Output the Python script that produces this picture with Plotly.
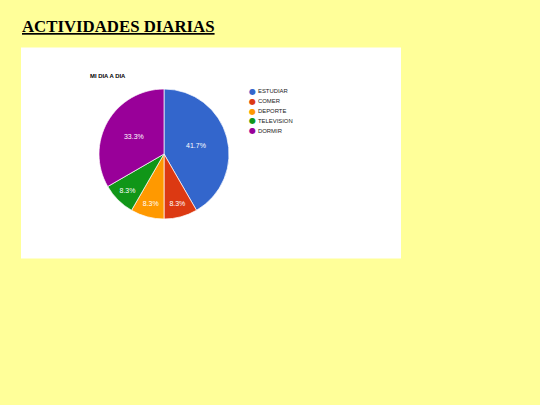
import plotly.graph_objects as go

# Horas del dia por actividad
ACTIVIDADES = ['ESTUDIAR', 'COMER', 'DEPORTE', 'TELEVISION', 'DORMIR']
HORAS = [10, 2, 2, 2, 8]
COLORES = ['#3366CC', '#DC3912', '#FF9900', '#109618', '#990099']

W, H = 540, 405

def px(x, y):
    # pixel -> paper coords
    return x / W, 1 - y / H

fig = go.Figure()
fig.add_trace(go.Pie(
    labels=ACTIVIDADES, values=HORAS, sort=False, direction='clockwise', rotation=0,
    marker=dict(colors=COLORES, line=dict(color='white', width=0.7)),
    texttemplate='%{percent:.1%}', textposition='inside', insidetextorientation='horizontal',
    textfont=dict(family='Arial, Liberation Sans', size=7, color='white'),
    domain=dict(x=[99 / W, 229 / W], y=[1 - 219 / H, 1 - 89 / H]),
    showlegend=False, hoverinfo='label+value+percent'))

x0, y1 = px(21, 47.5)
x1, y0 = px(401, 258.5)
shapes = [dict(type='rect', xref='paper', yref='paper', x0=x0, x1=x1, y0=y0, y1=y1,
               fillcolor='white', line=dict(width=0), layer='below')]

annotations = [
    dict(text='<b><u>ACTIVIDADES DIARIAS</u></b>', x=px(20, 0)[0], y=px(0, 38)[1], xref='paper', yref='paper',
         xanchor='left', yanchor='bottom', showarrow=False,
         font=dict(family='Liberation Serif, Times New Roman', size=16.8, color='black')),
    dict(text='<b>MI DIA A DIA</b>', x=px(87.5, 0)[0], y=px(0, 76)[1], xref='paper', yref='paper',
         xanchor='left', yanchor='middle', showarrow=False,
         font=dict(family='Arial, Liberation Sans', size=5.9, color='black')),
]
# leyenda manual
for i, (nombre, color) in enumerate(zip(ACTIVIDADES, COLORES)):
    yy = px(0, 91.5 + i * 9.8)[1]
    annotations.append(dict(text='●', x=px(252.5, 0)[0], y=yy, xref='paper', yref='paper',
                            xanchor='center', yanchor='middle', showarrow=False,
                            font=dict(family='DejaVu Sans', size=8, color=color)))
    annotations.append(dict(text=nombre, x=px(255.5, 0)[0], y=yy, xref='paper', yref='paper',
                            xanchor='left', yanchor='middle', showarrow=False,
                            font=dict(family='Arial, Liberation Sans', size=5.9, color='#222222')))

fig.update_layout(width=W, height=H, margin=dict(l=0, r=0, t=0, b=0),
                  paper_bgcolor='#FFFF99', plot_bgcolor='#FFFF99',
                  shapes=shapes, annotations=annotations)
fig.write_html('out.html', config={'displayModeBar': False},
               post_script="document.body.style.margin='0';")
